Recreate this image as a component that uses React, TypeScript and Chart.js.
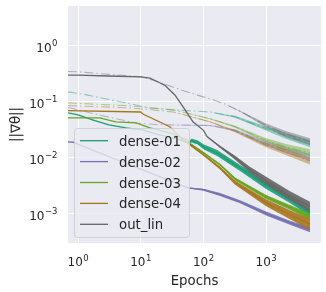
import React, { useEffect, useRef } from 'react';
import { Chart, registerables } from 'chart.js';

Chart.register(...registerables);

const FONT = '"DejaVu Sans", sans-serif';
const TEXT = '#262626';

const X_TICKS = [1, 10, 100, 1000];
const X_TICK_EXPONENTS = ['0', '1', '2', '3'];
const Y_TICKS = [0.001, 0.01, 0.1, 1];
const Y_TICK_EXPONENTS = ['\u22123', '\u22122', '\u22121', '0'];
const TICK_BASE = '10';
const X_MIN = 0.69;
const X_MAX = 7500;
const Y_MIN = 3.03e-4;
const Y_MAX = 5.18;

const LAYERS = ['dense-01', 'dense-02', 'dense-03', 'dense-04', 'out_lin'];
const COLORS = ['#1b9e77', '#7570b3', '#66a61e', '#a6761d', '#666666'];

// ---- solid lines (one per layer) ----
const D01_EPOCHS = [0.69, 1.0, 1.7, 3.1, 5.8, 10.5, 20, 42, 57, 65, 72, 80, 100, 165, 384, 1000, 2400, 5000];
const D01_VALUES = [0.0636, 0.0586, 0.0477, 0.0388, 0.0343, 0.0316, 0.0258, 0.021, 0.0185, 0.0205, 0.0195, 0.019, 0.0157, 0.0122, 0.0066, 0.0032, 0.0018, 0.00104];
const D01_SPREAD = [1, 1, 1, 1, 1, 1, 1, 1, 1.04, 1.086, 1.086, 1.086, 1.108, 1.131, 1.131, 1.155, 1.155, 1.155];

const D02_EPOCHS = [0.69, 0.83, 2, 5, 10, 20, 40, 57, 100, 184, 384, 1000, 2400, 5000];
const D02_VALUES = [0.0193, 0.019, 0.0128, 0.0085, 0.0063, 0.0046, 0.0034, 0.0029, 0.0027, 0.0022, 0.00164, 0.00101, 0.00069, 0.00052];
const D02_SPREAD = [1, 1, 1, 1, 1, 1, 1, 1.021, 1.042, 1.064, 1.064, 1.086, 1.086, 1.108];

const D03_EPOCHS = [0.69, 2.2, 4, 8.4, 14, 29, 55, 61, 100, 184, 320, 1000, 2400, 5000];
const D03_VALUES = [0.0518, 0.0518, 0.044, 0.0422, 0.0343, 0.0279, 0.021, 0.0178, 0.0123, 0.0075, 0.0042, 0.002, 0.0013, 0.00088];
const D03_SPREAD = [1, 1, 1, 1, 1, 1, 1, 1.042, 1.042, 1.042, 1.064, 1.086, 1.108, 1.131];

const D04_EPOCHS = [0.69, 10, 11, 29, 45, 61, 100, 184, 320, 1000, 2400, 5000];
const D04_VALUES = [0.07, 0.066, 0.06, 0.036, 0.022, 0.0171, 0.0113, 0.0066, 0.0036, 0.00157, 0.00096, 0.00065];
const D04_SPREAD = [1, 1, 1, 1, 1, 1.042, 1.042, 1.064, 1.086, 1.155, 1.203, 1.254];

const OUT_EPOCHS = [0.69, 1, 3, 10, 14, 20, 24, 35, 47, 68, 100, 114, 184, 320, 550, 1000, 2400, 5000];
const OUT_VALUES = [0.3, 0.3, 0.29, 0.28, 0.265, 0.22, 0.2, 0.133, 0.082, 0.044, 0.031, 0.024, 0.0157, 0.01, 0.0061, 0.0039, 0.0021, 0.00134];
const OUT_SPREAD = [1, 1, 1, 1, 1, 1, 1, 1, 1, 1, 1, 1, 1.042, 1.086, 1.131, 1.179, 1.203, 1.228];

// ---- dash-dot lines (one per layer) ----
const D01B_EPOCHS = [0.69, 1.3, 8.4, 14, 33, 127, 319, 950, 2000, 5000];
const D01B_VALUES = [0.151, 0.135, 0.088, 0.078, 0.072, 0.066, 0.054, 0.034, 0.025, 0.0178];
const D01B_SPREAD = [1, 1, 1, 1, 1, 1, 1.042, 1.086, 1.131, 1.155];

const D02B_EPOCHS = [0.69, 2.2, 8.4, 20, 127, 319, 950, 2000, 5000];
const D02B_VALUES = [0.08, 0.058, 0.042, 0.039, 0.038, 0.031, 0.0185, 0.0139, 0.0102];
const D02B_SPREAD = [1, 1, 1, 1, 1.021, 1.042, 1.086, 1.131, 1.155];

const D03B_EPOCHS = [0.69, 6.8, 33, 127, 319, 950, 2000, 5000];
const D03B_VALUES = [0.096, 0.085, 0.072, 0.05, 0.036, 0.021, 0.0157, 0.0123];
const D03B_SPREAD = [1, 1, 1, 1.021, 1.042, 1.086, 1.131, 1.155];

const D04B_EPOCHS = [0.69, 6.8, 33, 127, 319, 950, 2000, 5000];
const D04B_VALUES = [0.086, 0.078, 0.066, 0.044, 0.03, 0.0171, 0.0128, 0.0088];
const D04B_SPREAD = [1, 1, 1, 1.021, 1.042, 1.086, 1.131, 1.155];

const OUTB_EPOCHS = [0.69, 1, 3.2, 10.5, 20, 42, 99, 142, 238, 384, 1000, 2000, 5000];
const OUTB_VALUES = [0.35, 0.345, 0.31, 0.28, 0.224, 0.166, 0.123, 0.109, 0.088, 0.068, 0.038, 0.027, 0.0194];
const OUTB_SPREAD = [1, 1, 1, 1, 1, 1, 1, 1, 1, 1.021, 1.086, 1.131, 1.155];

type Series = { layer: number; dashed: boolean; epochs: number[]; values: number[]; spread: number[] };

const SERIES: Series[] = [
  { layer: 0, dashed: true, epochs: D01B_EPOCHS, values: D01B_VALUES, spread: D01B_SPREAD },
  { layer: 1, dashed: true, epochs: D02B_EPOCHS, values: D02B_VALUES, spread: D02B_SPREAD },
  { layer: 2, dashed: true, epochs: D03B_EPOCHS, values: D03B_VALUES, spread: D03B_SPREAD },
  { layer: 3, dashed: true, epochs: D04B_EPOCHS, values: D04B_VALUES, spread: D04B_SPREAD },
  { layer: 4, dashed: true, epochs: OUTB_EPOCHS, values: OUTB_VALUES, spread: OUTB_SPREAD },
  { layer: 1, dashed: false, epochs: D02_EPOCHS, values: D02_VALUES, spread: D02_SPREAD },
  { layer: 0, dashed: false, epochs: D01_EPOCHS, values: D01_VALUES, spread: D01_SPREAD },
  { layer: 2, dashed: false, epochs: D03_EPOCHS, values: D03_VALUES, spread: D03_SPREAD },
  { layer: 3, dashed: false, epochs: D04_EPOCHS, values: D04_VALUES, spread: D04_SPREAD },
  { layer: 4, dashed: false, epochs: OUT_EPOCHS, values: OUT_VALUES, spread: OUT_SPREAD },
];

function rgba(hex: string, a: number) {
  const r = parseInt(hex.slice(1, 3), 16);
  const g = parseInt(hex.slice(3, 5), 16);
  const b = parseInt(hex.slice(5, 7), 16);
  return `rgba(${r},${g},${b},${a})`;
}

const BASE_FONT = `12px ${FONT}`;
const EXP_FONT = `8.5px ${FONT}`;

function drawPow(ctx: CanvasRenderingContext2D, exp: string, anchorX: number, baseline: number, align: 'right' | 'center') {
  ctx.font = BASE_FONT;
  const wb = ctx.measureText(TICK_BASE).width;
  ctx.font = EXP_FONT;
  const we = ctx.measureText(exp).width;
  const total = wb + we + 0.5;
  const left = align === 'right' ? anchorX - total : anchorX - total / 2;
  ctx.textAlign = 'left';
  ctx.textBaseline = 'alphabetic';
  ctx.font = BASE_FONT;
  ctx.fillText(TICK_BASE, left, baseline);
  ctx.font = EXP_FONT;
  ctx.fillText(exp, left + wb + 0.5, baseline - 5.5);
}

const decor = {
  id: 'decor',
  beforeDraw(chart: any) {
    const { ctx, chartArea: a } = chart;
    ctx.save();
    ctx.fillStyle = '#EAEAF2';
    ctx.fillRect(a.left, a.top, a.right - a.left, a.bottom - a.top);
    ctx.restore();
  },
  afterDraw(chart: any) {
    const { ctx, chartArea: a } = chart;
    ctx.save();
    // tick labels
    ctx.fillStyle = TEXT;
    X_TICKS.forEach((v, i) => {
      const px = chart.scales.x.getPixelForValue(v);
      drawPow(ctx, X_TICK_EXPONENTS[i], px, a.bottom + 23, 'center');
    });
    Y_TICKS.forEach((v, i) => {
      const py = chart.scales.y.getPixelForValue(v);
      drawPow(ctx, Y_TICK_EXPONENTS[i], a.left - 10.5, py + 6, 'right');
    });
    // legend frame
    const lx = 74.5, ly = 128.5, lw = 115, lh = 109, r = 3;
    ctx.beginPath();
    ctx.moveTo(lx + r, ly);
    ctx.lineTo(lx + lw - r, ly);
    ctx.arcTo(lx + lw, ly, lx + lw, ly + r, r);
    ctx.lineTo(lx + lw, ly + lh - r);
    ctx.arcTo(lx + lw, ly + lh, lx + lw - r, ly + lh, r);
    ctx.lineTo(lx + r, ly + lh);
    ctx.arcTo(lx, ly + lh, lx, ly + lh - r, r);
    ctx.lineTo(lx, ly + r);
    ctx.arcTo(lx, ly, lx + r, ly, r);
    ctx.closePath();
    ctx.fillStyle = 'rgba(234,234,242,0.8)';
    ctx.fill();
    ctx.strokeStyle = 'rgba(204,204,204,0.8)';
    ctx.lineWidth = 1;
    ctx.stroke();
    ctx.font = `13.3px ${FONT}`;
    ctx.textAlign = 'left';
    ctx.textBaseline = 'alphabetic';
    LAYERS.forEach((name, i) => {
      const y = 140.7 + i * 20.9;
      ctx.strokeStyle = COLORS[i];
      ctx.lineWidth = 1.3;
      ctx.beginPath();
      ctx.moveTo(80, y);
      ctx.lineTo(108, y);
      ctx.stroke();
      ctx.fillStyle = TEXT;
      ctx.fillText(name, 119, y + 5);
    });
    // axis titles
    ctx.fillStyle = TEXT;
    ctx.font = `13.3px ${FONT}`;
    ctx.textAlign = 'center';
    ctx.fillText('Epochs', (a.left + a.right) / 2, 285);
    ctx.translate(17, (a.top + a.bottom) / 2);
    ctx.rotate(-Math.PI / 2);
    ctx.textBaseline = 'middle';
    ctx.fillText('||∇θ||', 0, 0);
    ctx.restore();
  },
};

function zeroPad(sc: any) {
  sc.paddingTop = 0;
  sc.paddingBottom = 0;
  sc.paddingLeft = 0;
  sc.paddingRight = 0;
}

export default function App() {
  const ref = useRef<HTMLCanvasElement>(null);
  useEffect(() => {
    const canvas = ref.current!;
    const datasets: any[] = [];
    const n = SERIES.length * 3;
    let k = 0;
    SERIES.forEach((s) => {
      const color = COLORS[s.layer];
      const lineAlpha = s.dashed ? 0.45 : 1;
      const bandAlpha = s.dashed ? 0.45 : 0.9;
      const base = { pointRadius: 0, showLine: true, tension: 0 };
      datasets.push({
        ...base,
        data: s.epochs.map((e, i) => ({ x: e, y: s.values[i] / s.spread[i] })),
        borderColor: 'rgba(0,0,0,0)',
        borderWidth: 1,
        fill: false,
        order: n - k++,
      });
      datasets.push({
        ...base,
        data: s.epochs.map((e, i) => ({ x: e, y: s.values[i] * s.spread[i] })),
        borderColor: 'rgba(0,0,0,0)',
        borderWidth: 1,
        backgroundColor: rgba(color, bandAlpha),
        fill: '-1',
        order: n - k++,
      });
      datasets.push({
        ...base,
        data: s.epochs.map((e, i) => ({ x: e, y: s.values[i] })),
        borderColor: rgba(color, lineAlpha),
        borderWidth: s.dashed ? 1.1 : 1.3,
        borderDash: s.dashed ? [9, 3, 1.5, 3] : [],
        fill: false,
        order: n - k++,
      });
    });

    const chart = new Chart(canvas, {
      type: 'line',
      data: { datasets },
      options: {
        animation: false,
        responsive: false,
        devicePixelRatio: 1,
        layout: { padding: { left: 0, top: 6, right: 5, bottom: 0 } },
        plugins: { legend: { display: false }, tooltip: { enabled: false }, title: { display: false } },
        scales: {
          x: {
            type: 'logarithmic',
            min: X_MIN,
            max: X_MAX,
            afterBuildTicks: (sc: any) => {
              sc.ticks = X_TICKS.map((v) => ({ value: v }));
            },
            afterFit: (sc: any) => {
              sc.height = 49;
              zeroPad(sc);
            },
            ticks: { display: false, autoSkip: false, maxRotation: 0, minRotation: 0 },
            grid: { color: '#ffffff', lineWidth: 1, drawTicks: false },
            border: { display: false },
          },
          y: {
            type: 'logarithmic',
            min: Y_MIN,
            max: Y_MAX,
            afterBuildTicks: (sc: any) => {
              sc.ticks = Y_TICKS.map((v) => ({ value: v }));
            },
            afterFit: (sc: any) => {
              sc.width = 68;
              zeroPad(sc);
            },
            ticks: { display: false, autoSkip: false },
            grid: { color: '#ffffff', lineWidth: 1, drawTicks: false },
            border: { display: false },
          },
        },
      } as any,
      plugins: [decor],
    });
    return () => chart.destroy();
  }, []);
  return (
    <div style={{ position: 'absolute', left: 0, top: 0, width: 326, height: 292, background: '#ffffff' }}>
      <canvas ref={ref} width={326} height={292} style={{ display: 'block', width: 326, height: 292 }} />
    </div>
  );
}
